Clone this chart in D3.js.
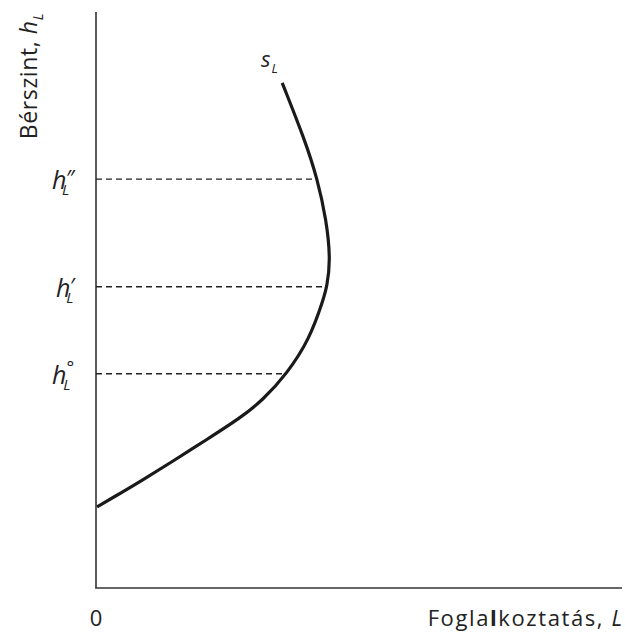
<!DOCTYPE html>
<html><head><meta charset="utf-8">
<script src="https://cdn.jsdelivr.net/npm/d3@7"></script>
<style>body{margin:0;background:#fff}svg{display:block}text{font-family:"Open Sans",sans-serif;fill:#222}</style>
</head><body>
<script>
// Supply curve s_L (employment L, wage level h_L) in data units 0..100
const curveL = [0.2, 5.1, 8.4, 14.6, 21.1, 27.4, 31.7, 36.3, 40.6, 43.2, 43.9, 44.6, 43.8, 42.1, 39.7, 35.4];
const curveH = [14.1, 16.7, 18.5, 22.0, 25.8, 29.5, 32.6, 37.2, 43.2, 50.0, 52.3, 56.9, 63.9, 71.0, 77.8, 87.7];
// Marked wage levels
const levelPrimes = ["\u2033", "\u2032", "\u00B0"];
const levelH = [71.0, 52.3, 37.2];
const levelL = [42.0, 43.9, 36.3];

const W = 625, H = 633;
const svg = d3.select("body").append("svg").attr("width", W).attr("height", H);
const x = d3.scaleLinear().domain([0, 100]).range([96, 622]);
const y = d3.scaleLinear().domain([0, 100]).range([588, 12]);

// axes
svg.append("line").attr("x1", x(0)).attr("x2", x(0)).attr("y1", y(100)).attr("y2", y(0))
  .attr("stroke", "#333").attr("stroke-width", 1.6);
svg.append("line").attr("x1", x(0) - 0.8).attr("x2", x(100)).attr("y1", y(0)).attr("y2", y(0))
  .attr("stroke", "#333").attr("stroke-width", 1.6);

// dashed levels + labels
levelH.forEach((h, i) => {
  svg.append("line").attr("x1", x(0)).attr("x2", x(levelL[i])).attr("y1", y(h)).attr("y2", y(h))
    .attr("stroke", "#222").attr("stroke-width", 1.3).attr("stroke-dasharray", "6,4");
  const t = svg.append("text").attr("x", i === 1 ? 56 : 52).attr("y", y(h) + 10)
    .attr("font-style", "italic").attr("font-size", 25);
  t.append("tspan").text("h");
  t.append("tspan").attr("font-size", i === 2 ? 18 : 22).attr("dx", i === 2 ? 0 : -1)
    .attr("dy", i === 2 ? -10 : -3).text(levelPrimes[i]);
  t.append("tspan").attr("font-size", 15).attr("dx", i === 0 ? -12 : (i === 1 ? -8 : -11))
    .attr("dy", i === 2 ? 16 : 9).text("L");
});

// curve
const pts = curveL.map((l, i) => [l, curveH[i]]);
svg.append("path").datum(pts)
  .attr("d", d3.line().x(d => x(d[0])).y(d => y(d[1])).curve(d3.curveBasis))
  .attr("fill", "none").attr("stroke", "#1a1a1a").attr("stroke-width", 3.2).attr("stroke-linecap", "butt");

// s_L label
const sl = svg.append("text").attr("x", 261).attr("y", 67).attr("font-style", "italic").attr("font-size", 22);
sl.append("tspan").text("s");
sl.append("tspan").attr("font-size", 13).attr("dx", 1).attr("dy", 6).text("L");

// zero
svg.append("text").attr("x", x(0)).attr("y", 626).attr("text-anchor", "middle").attr("font-size", 22).text("0");

// x label
const xl = svg.append("text").attr("x", 622).attr("y", 626).attr("text-anchor", "end")
  .attr("font-size", 22).attr("letter-spacing", 1.6);
xl.append("tspan").text("Fogla");
xl.append("tspan").attr("font-weight", "bold").text("l");
xl.append("tspan").text("koztatás,  ");
xl.append("tspan").attr("font-style", "italic").attr("letter-spacing", 0).text("L");

// y label
const yl = svg.append("text").attr("transform", "translate(37,13) rotate(-90)")
  .attr("text-anchor", "end").attr("font-size", 23).attr("letter-spacing", 0.6);
yl.append("tspan").text("Bérszint,  ");
yl.append("tspan").attr("font-style", "italic").text("h");
yl.append("tspan").attr("font-style", "italic").attr("font-size", 14).attr("dy", 6).text("L");
</script>
</body></html>
